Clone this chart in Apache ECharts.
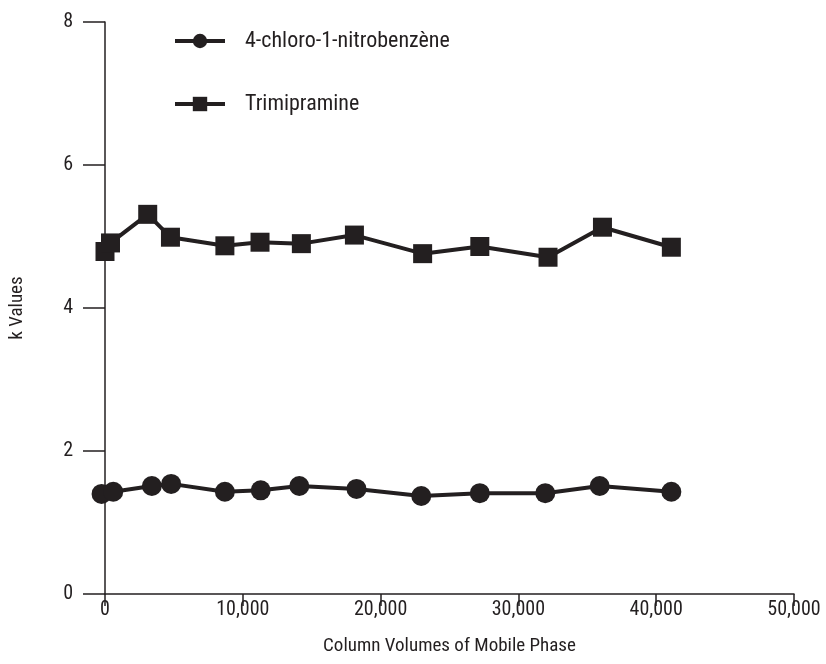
<!DOCTYPE html>
<html>
<head>
<meta charset="utf-8">
<script src="https://cdn.jsdelivr.net/npm/echarts@6/dist/echarts.min.js"></script>
<style>html,body{margin:0;padding:0;background:#fff}#c{width:826px;height:664px}</style>
</head>
<body>
<div id="c"></div>
<script>
var seriesNames = ['4-chloro-1-nitrobenzène', 'Trimipramine'];
var chloroX = [-250, 600, 3400, 4800, 8700, 11300, 14100, 18250, 22950, 27200, 31950, 35900, 41100];
var chloroY = [1.40, 1.43, 1.51, 1.54, 1.43, 1.45, 1.51, 1.47, 1.37, 1.41, 1.41, 1.51, 1.43];
var trimiX = [0, 400, 3100, 4750, 8700, 11250, 14250, 18100, 23050, 27200, 32150, 36100, 41100];
var trimiY = [4.79, 4.91, 5.31, 4.99, 4.87, 4.92, 4.90, 5.02, 4.76, 4.86, 4.71, 5.13, 4.85];
var xTicks = [0, 10000, 20000, 30000, 40000, 50000];
var yTicks = [0, 2, 4, 6, 8];

function pairs(xs, ys) { return xs.map(function (x, i) { return [x, ys[i]]; }); }

var ink = '#231f20';
var font = '"Liberation Sans Narrow", "Roboto Condensed", "Liberation Sans", sans-serif';
var chart = echarts.init(document.getElementById('c'), null, { renderer: 'canvas' });
chart.setOption({
  animation: false,
  backgroundColor: '#fff',
  grid: { left: 102, right: 32, top: 22, bottom: 70, containLabel: false },
  legend: {
    orient: 'vertical', left: 173, top: 30, padding: 0,
    itemWidth: 50, itemHeight: 18, itemGap: 41,
    data: seriesNames,
    lineStyle: { width: 4 },
    textStyle: { color: ink, fontFamily: font, fontSize: 22, lineHeight: 14, padding: [0, 0, 0, 15] }
  },
  xAxis: {
    type: 'value', min: xTicks[0], max: xTicks[xTicks.length - 1], interval: 10000,
    name: 'Column Volumes of Mobile Phase', nameLocation: 'middle', nameGap: 43,
    nameTextStyle: { color: ink, fontFamily: font, fontSize: 19 },
    axisLine: { show: true, lineStyle: { color: ink, width: 1.5 } },
    axisTick: { show: true, length: 12, lineStyle: { color: ink, width: 1.5 } },
    axisLabel: { color: ink, fontFamily: font, fontSize: 20, margin: 6,
      formatter: function (v) { return v.toLocaleString('en-US'); } },
    splitLine: { show: false }
  },
  yAxis: {
    type: 'value', min: yTicks[0], max: yTicks[yTicks.length - 1], interval: 2,
    name: 'k Values', nameLocation: 'middle', nameGap: 78,
    nameTextStyle: { color: ink, fontFamily: font, fontSize: 19 },
    axisLine: { show: true, lineStyle: { color: ink, width: 1.5 } },
    axisTick: { show: true, length: 22, lineStyle: { color: ink, width: 1.5 } },
    axisLabel: { color: ink, fontFamily: font, fontSize: 20, margin: 32 },
    splitLine: { show: false }
  },
  series: [
    {
      name: seriesNames[0], type: 'line', data: pairs(chloroX, chloroY),
      symbol: 'circle', symbolSize: 20, clip: false,
      lineStyle: { color: ink, width: 4 }, itemStyle: { color: ink }
    },
    {
      name: seriesNames[1], type: 'line', data: pairs(trimiX, trimiY),
      symbol: 'rect', symbolSize: 19, clip: false,
      lineStyle: { color: ink, width: 4 }, itemStyle: { color: ink }
    }
  ]
});
</script>
</body>
</html>
